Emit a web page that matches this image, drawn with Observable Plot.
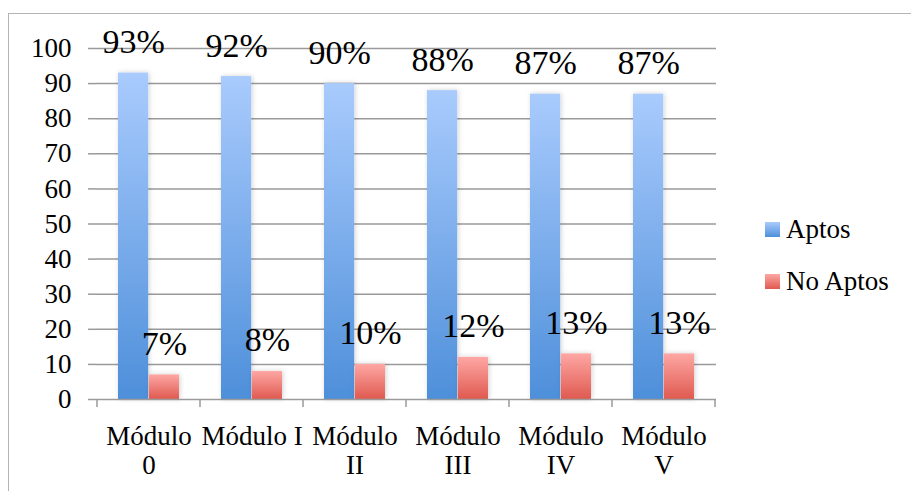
<!DOCTYPE html>
<html>
<head>
<meta charset="utf-8">
<script src="https://cdn.jsdelivr.net/npm/d3@7"></script>
<script src="https://cdn.jsdelivr.net/npm/@observablehq/plot@0.6"></script>
<style>
  html, body { margin: 0; padding: 0; background: #fff; }
  #wrap { position: relative; width: 911px; height: 491px; overflow: hidden; }
  #border { position: absolute; left: 8px; top: 13px; right: -2px; bottom: -2px; border-top: 1.5px solid #b3b3b3; border-left: 1.5px solid #b3b3b3; }
  #chart { position: absolute; left: 0; top: 0; }
  #chart svg, #chart svg text { font-family: "Liberation Serif", "Times New Roman", serif !important; }
  #legend { position: absolute; left: 765px; top: 221px; font-family: "Liberation Serif", "Times New Roman", serif; font-size: 27px; color: #000; }
  .item { position: relative; height: 52px; }
  .sw { position: absolute; left: 0; top: 1px; width: 15px; height: 15px; }
  .lab { position: absolute; left: 21px; top: -7px; white-space: nowrap; }
</style>
</head>
<body>
<div id="wrap">
  <div id="border"></div>
  <div id="chart"></div>
  <div id="legend"></div>
</div>
<script>
const categories = ["Módulo 0", "Módulo I", "Módulo II", "Módulo III", "Módulo IV", "Módulo V"];
const tickLabels = ["Módulo\n0", "Módulo I", "Módulo\nII", "Módulo\nIII", "Módulo\nIV", "Módulo\nV"];
const aptos = [93, 92, 90, 88, 87, 87];
const noAptos = [7, 8, 10, 12, 13, 13];
const seriesNames = ["Aptos", "No Aptos"];
const yTicks = [0, 10, 20, 30, 40, 50, 60, 70, 80, 90, 100];

const rows = categories.map((c, i) => ({cat: c, label: tickLabels[i], aptos: aptos[i], noAptos: noAptos[i]}));

const font = '"Liberation Serif", "Times New Roman", serif';
const gridColor = "#9a9a9a";

// boundary ticks drawn with the plot's x band scale
const boundaryTicks = (index, scales) => {
  const x = scales.x;
  const bw = x.bandwidth();
  const xs = categories.map(c => x(c)).concat([x(categories[categories.length - 1]) + bw]);
  const y0 = scales.y(0);
  const g = d3.create("svg:g");
  g.selectAll("line").data(xs).join("line")
    .attr("x1", d => d).attr("x2", d => d)
    .attr("y1", y0).attr("y2", y0 + 8)
    .attr("stroke", gridColor).attr("stroke-width", 1.5);
  return g.node();
};

const chart = Plot.plot({
  width: 911,
  height: 491,
  marginLeft: 96,
  marginRight: 195,
  marginTop: 48,
  marginBottom: 92,
  style: {fontFamily: font, background: "transparent", overflow: "visible"},
  x: {domain: categories, padding: 0, label: null},
  y: {domain: [0, 100], label: null},
  marks: [
    Plot.ruleY(yTicks.filter(v => v > 0), {stroke: gridColor, strokeWidth: 1.5}),
    Plot.axisY({ticks: yTicks, tickSize: 8, tickPadding: 17, fontSize: 27, fontFamily: font, stroke: gridColor, strokeWidth: 1.5, label: null, color: "#000"}),
    Plot.ruleX([0], {x: () => null}),
    Plot.barY(rows, {x: "cat", y: "aptos", fill: "url(#gBlue)", insetLeft: 21, insetRight: 51.8}),
    Plot.barY(rows, {x: "cat", y: "noAptos", fill: "url(#gRed)", insetLeft: 51.8, insetRight: 21}),
    Plot.ruleY([0], {stroke: gridColor, strokeWidth: 1.5}),
    boundaryTicks,
    Plot.text(rows, {x: "cat", y: "aptos", text: d => d.aptos + "%", dx: -15.4, dy: -20, lineAnchor: "bottom", fontSize: 34, fontFamily: font, fill: "#000"}),
    Plot.text(rows, {x: "cat", y: "noAptos", text: d => d.noAptos + "%", dx: 15.4, dy: -20, lineAnchor: "bottom", fontSize: 34, fontFamily: font, fill: "#000"}),
    Plot.axisX({tickSize: 0, tickPadding: 24, fontSize: 27, fontFamily: font, lineHeight: 1.1, tickFormat: c => tickLabels[categories.indexOf(c)], label: null, color: "#000"})
  ]
});

// gradients and soft shadow
const svg = d3.select(chart);
const defs = svg.insert("defs", ":first-child");
const gb = defs.append("linearGradient").attr("id", "gBlue").attr("x1", 0).attr("y1", 0).attr("x2", 0).attr("y2", 1);
gb.append("stop").attr("offset", "0%").attr("stop-color", "#a9cbfd");
gb.append("stop").attr("offset", "100%").attr("stop-color", "#4e8fda");
const gr = defs.append("linearGradient").attr("id", "gRed").attr("x1", 0).attr("y1", 0).attr("x2", 0).attr("y2", 1);
gr.append("stop").attr("offset", "0%").attr("stop-color", "#fea7a4");
gr.append("stop").attr("offset", "100%").attr("stop-color", "#df5a50");
const f = defs.append("filter").attr("id", "shadow").attr("x", "-30%").attr("y", "-10%").attr("width", "160%").attr("height", "120%");
f.append("feDropShadow").attr("dx", 1).attr("dy", 0).attr("stdDeviation", 2.5).attr("flood-color", "#000").attr("flood-opacity", 0.18);
svg.selectAll("g[aria-label='bar']").attr("filter", "url(#shadow)");

document.getElementById("chart").appendChild(chart);

// legend
const legend = d3.select("#legend");
const legendFills = ["linear-gradient(#a9cbfd, #4e8fda)", "linear-gradient(#fea7a4, #df5a50)"];
seriesNames.forEach((s, i) => {
  const it = legend.append("div").attr("class", "item");
  it.append("div").attr("class", "sw").style("background", legendFills[i]);
  it.append("div").attr("class", "lab").text(s);
});
</script>
</body>
</html>
